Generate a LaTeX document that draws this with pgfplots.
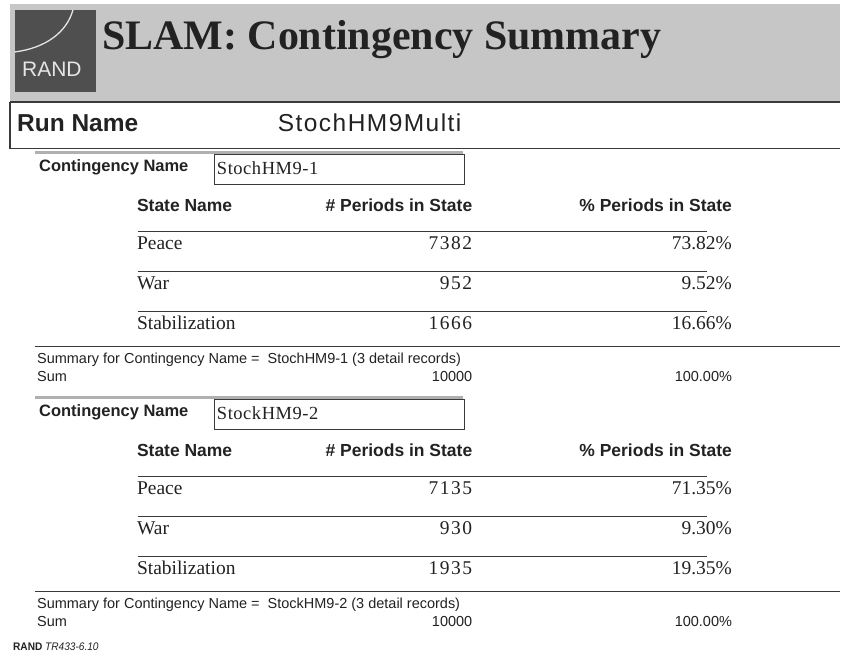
\documentclass[border=0pt]{standalone}
\usepackage{pgfplots}
\usepackage{pgfplotstable}
\pgfplotsset{compat=1.18}
\usepackage{fontspec}
\setmainfont{Liberation Serif}
\newfontfamily\titlefont{Liberation Serif}
\newfontfamily\sans{Liberation Sans}
\newfontfamily\wsans[LetterSpace=6]{Liberation Sans}
\newfontfamily\vserif[LetterSpace=3]{Liberation Serif}
\newfontfamily\cserif[LetterSpace=8]{Liberation Serif}
\newfontfamily\pserif{Liberation Serif}
\newfontfamily\nsans[FakeStretch=0.92]{Liberation Sans}
\definecolor{band}{HTML}{C6C6C6}
\definecolor{logo}{HTML}{4F4F4F}
\definecolor{rule}{HTML}{3A3A3A}
\definecolor{lgray}{HTML}{B0B0B0}
\definecolor{ink}{HTML}{222222}

% y = text baseline (pixels from top)
\pgfplotstableread{
y count pct state
250 7382 73.82 Peace
290 952 9.52 War
330 1666 16.66 Stabilization
}\blockA
\pgfplotstableread{
y count pct state
495 7135 71.35 Peace
535 930 9.30 War
575 1935 19.35 Stabilization
}\blockB
\pgfplotstableread{
y count pct
382 10000 100.00
627 10000 100.00
}\sums

% #1 = vertical offset, #2 = contingency name
\newcommand\cblock[2]{%
  \draw[lgray, line width=3pt] (axis cs:35,{153+#1}) -- (axis cs:464,{153+#1});
  \node[anchor=base west, font=\sans\bfseries\fontsize{16.5}{16.5}\selectfont, inner sep=0pt, text=ink] at (axis cs:39,{172+#1}) {Contingency Name};
  \draw[rule, line width=0.9pt] (axis cs:215,{155+#1}) rectangle (axis cs:465,{185+#1});
  \node[anchor=base west, font=\vserif\fontsize{18.5}{18.5}\selectfont, inner sep=0pt, text=ink] at (axis cs:217,{175+#1}) {#2};
  \node[anchor=base west, font=\sans\bfseries\fontsize{17.5}{17.5}\selectfont, inner sep=0pt, text=ink] at (axis cs:137,{212+#1}) {State Name};
  \node[anchor=base east, font=\sans\bfseries\fontsize{17.5}{17.5}\selectfont, inner sep=0pt, text=ink] at (axis cs:473,{212+#1}) {\# Periods in State};
  \node[anchor=base east, font=\sans\bfseries\fontsize{17.5}{17.5}\selectfont, inner sep=0pt, text=ink] at (axis cs:733,{212+#1}) {\% Periods in State};
  \draw[rule, line width=1.4pt] (axis cs:138,{232+#1}) -- (axis cs:708,{232+#1});
  \draw[rule, line width=1.4pt] (axis cs:138,{272+#1}) -- (axis cs:708,{272+#1});
  \draw[rule, line width=1.4pt] (axis cs:138,{312+#1}) -- (axis cs:708,{312+#1});
  \draw[rule, line width=1.4pt] (axis cs:35,{347+#1}) -- (axis cs:841,{347+#1});
  \node[anchor=base west, font=\sans\fontsize{14.5}{14.5}\selectfont, inner sep=0pt, text=ink] at (axis cs:37,{364+#1}) {Summary for Contingency Name = \ #2 (3 detail records)};
  \node[anchor=base west, font=\sans\fontsize{14.5}{14.5}\selectfont, inner sep=0pt, text=ink] at (axis cs:37,{382+#1}) {Sum};
}

\begin{document}
\begin{tikzpicture}
\begin{axis}[
  width=841pt, height=663pt, scale only axis,
  xmin=0, xmax=841, ymin=0, ymax=663, y dir=reverse,
  hide axis, clip=false,
]
\fill[white] (axis cs:0,0) rectangle (axis cs:841,663);
\fill[band] (axis cs:10,4) rectangle (axis cs:841,101);
% logo
\fill[logo] (axis cs:15,10) rectangle (axis cs:96,92);
\draw[white!90!black, line width=1.3pt] (axis cs:15,52) .. controls (axis cs:46,48) and (axis cs:67,32) .. (axis cs:73,10);
\node[anchor=base west, text=white!90!black, font=\sans\fontsize{21}{21}\selectfont, inner sep=0pt] at (axis cs:22,77) {RAND};
% title
\node[anchor=base west, font=\titlefont\bfseries\fontsize{42}{42}\selectfont, inner sep=0pt, text=ink] at (axis cs:102,50) {SLAM: Contingency Summary};
% run name box
\draw[rule, line width=2pt] (axis cs:10,102) -- (axis cs:841,102);
\draw[rule, line width=1.2pt] (axis cs:841,149) -- (axis cs:10,149) -- (axis cs:10,102);
\node[anchor=base west, font=\sans\bfseries\fontsize{24.5}{24.5}\selectfont, inner sep=0pt, text=ink] at (axis cs:17,132) {Run Name};
\node[anchor=base west, font=\wsans\fontsize{24.5}{24.5}\selectfont, inner sep=0pt, text=ink] at (axis cs:278,132) {StochHM9Multi};

\cblock{0}{StochHM9-1}
\cblock{245}{StockHM9-2}

\pgfplotsset{valnode/.style={draw=none, mark=none, nodes near coords, point meta=explicit symbolic,
  every node near coord/.append style={inner sep=0pt, text=ink}}}
\addplot[valnode, every node near coord/.append style={anchor=base west, font=\pserif\fontsize{19.5}{19.5}\selectfont}] table[x expr=137, y=y, meta=state] {\blockA};
\addplot[valnode, every node near coord/.append style={anchor=base east, font=\cserif\fontsize{19.5}{19.5}\selectfont}] table[x expr=473, y=y, meta=count] {\blockA};
\addplot[valnode, nodes near coords={\pgfplotspointmeta\%}, every node near coord/.append style={anchor=base east, font=\pserif\fontsize{19.5}{19.5}\selectfont}] table[x expr=733, y=y, meta=pct] {\blockA};
\addplot[valnode, every node near coord/.append style={anchor=base west, font=\pserif\fontsize{19.5}{19.5}\selectfont}] table[x expr=137, y=y, meta=state] {\blockB};
\addplot[valnode, every node near coord/.append style={anchor=base east, font=\cserif\fontsize{19.5}{19.5}\selectfont}] table[x expr=473, y=y, meta=count] {\blockB};
\addplot[valnode, nodes near coords={\pgfplotspointmeta\%}, every node near coord/.append style={anchor=base east, font=\pserif\fontsize{19.5}{19.5}\selectfont}] table[x expr=733, y=y, meta=pct] {\blockB};
\addplot[draw=none, mark=none, nodes near coords, point meta=explicit symbolic,
  every node near coord/.append style={anchor=base east, inner sep=0pt, text=ink, font=\sans\fontsize{14.5}{14.5}\selectfont}]
  table[x expr=473, y=y, meta=count] {\sums};
\addplot[draw=none, mark=none, nodes near coords={\pgfplotspointmeta\%}, point meta=explicit symbolic,
  every node near coord/.append style={anchor=base east, inner sep=0pt, text=ink, font=\sans\fontsize{14.5}{14.5}\selectfont}]
  table[x expr=733, y=y, meta=pct] {\sums};

\node[anchor=base west, font=\nsans\fontsize{11}{11}\selectfont, inner sep=0pt, text=ink] at (axis cs:13,651) {\textbf{RAND} \textit{TR433-6.10}};
\end{axis}
\end{tikzpicture}
\end{document}
